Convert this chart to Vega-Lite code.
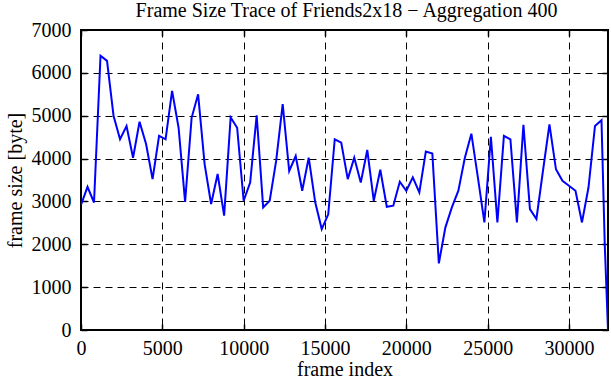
{
  "$schema": "https://vega.github.io/schema/vega-lite/v6.json",
  "width": 527,
  "height": 300,
  "autosize": {"type": "none"},
  "padding": {"left": 81, "top": 30, "right": 3, "bottom": 50},
  "background": "white",
  "config": {
    "font": "Liberation Serif",
    "view": {"stroke": "black", "strokeWidth": 2},
    "axis": {
      "labelFont": "Liberation Serif",
      "labelFontSize": 20,
      "labelColor": "black",
      "titleFont": "Liberation Serif",
      "titleFontSize": 20,
      "titleFontWeight": "normal",
      "titleColor": "black",
      "domain": false,
      "tickColor": "black",
      "tickWidth": 1.5,
      "gridColor": "black",
      "gridOpacity": 1,
      "gridWidth": 1,
      "gridDash": [7, 5]
    }
  },
  "data": {
    "values": [
      {"frame": 0, "size": 2920},
      {"frame": 400, "size": 3340},
      {"frame": 800, "size": 2975},
      {"frame": 1200, "size": 6400},
      {"frame": 1600, "size": 6280},
      {"frame": 2000, "size": 5000},
      {"frame": 2400, "size": 4450},
      {"frame": 2800, "size": 4760},
      {"frame": 3200, "size": 4020},
      {"frame": 3600, "size": 4860},
      {"frame": 4000, "size": 4340},
      {"frame": 4400, "size": 3520},
      {"frame": 4800, "size": 4530},
      {"frame": 5200, "size": 4450},
      {"frame": 5600, "size": 5580},
      {"frame": 6000, "size": 4720},
      {"frame": 6400, "size": 2990},
      {"frame": 6800, "size": 4950},
      {"frame": 7200, "size": 5500},
      {"frame": 7600, "size": 3870},
      {"frame": 8000, "size": 2940},
      {"frame": 8400, "size": 3640},
      {"frame": 8800, "size": 2670},
      {"frame": 9200, "size": 4960},
      {"frame": 9600, "size": 4720},
      {"frame": 10000, "size": 3015},
      {"frame": 10400, "size": 3440},
      {"frame": 10800, "size": 5010},
      {"frame": 11200, "size": 2860},
      {"frame": 11600, "size": 3015},
      {"frame": 12000, "size": 3950},
      {"frame": 12400, "size": 5270},
      {"frame": 12800, "size": 3710},
      {"frame": 13200, "size": 4060},
      {"frame": 13600, "size": 3250},
      {"frame": 14000, "size": 4020},
      {"frame": 14400, "size": 2980},
      {"frame": 14800, "size": 2355},
      {"frame": 15200, "size": 2700},
      {"frame": 15600, "size": 4450},
      {"frame": 16000, "size": 4370},
      {"frame": 16400, "size": 3520},
      {"frame": 16800, "size": 4020},
      {"frame": 17200, "size": 3440},
      {"frame": 17600, "size": 4200},
      {"frame": 18000, "size": 3015},
      {"frame": 18400, "size": 3740},
      {"frame": 18800, "size": 2875},
      {"frame": 19200, "size": 2900},
      {"frame": 19600, "size": 3460},
      {"frame": 20000, "size": 3250},
      {"frame": 20400, "size": 3560},
      {"frame": 20800, "size": 3210},
      {"frame": 21200, "size": 4165},
      {"frame": 21600, "size": 4120},
      {"frame": 22000, "size": 1555},
      {"frame": 22400, "size": 2390},
      {"frame": 22800, "size": 2860},
      {"frame": 23200, "size": 3250},
      {"frame": 23600, "size": 4020},
      {"frame": 24000, "size": 4580},
      {"frame": 24400, "size": 3560},
      {"frame": 24800, "size": 2510},
      {"frame": 25200, "size": 4510},
      {"frame": 25600, "size": 2510},
      {"frame": 26000, "size": 4530},
      {"frame": 26400, "size": 4450},
      {"frame": 26800, "size": 2510},
      {"frame": 27200, "size": 4790},
      {"frame": 27600, "size": 2820},
      {"frame": 28000, "size": 2590},
      {"frame": 28400, "size": 3710},
      {"frame": 28800, "size": 4800},
      {"frame": 29200, "size": 3750},
      {"frame": 29600, "size": 3480},
      {"frame": 30000, "size": 3365},
      {"frame": 30400, "size": 3250},
      {"frame": 30800, "size": 2510},
      {"frame": 31200, "size": 3325},
      {"frame": 31600, "size": 4760},
      {"frame": 32000, "size": 4895},
      {"frame": 32200, "size": 2000},
      {"frame": 32400, "size": 0}
    ]
  },
  "layer": [
    {
      "mark": {"type": "line", "color": "#0000ff", "strokeWidth": 2, "clip": true},
      "encoding": {
        "x": {
          "field": "frame", "type": "quantitative",
          "scale": {"domain": [0, 32400], "nice": false, "zero": false},
          "axis": {
            "orient": "bottom",
            "values": [0, 5000, 10000, 15000, 20000, 25000, 30000],
            "format": "d",
            "grid": true,
            "ticks": true,
            "tickSize": -6,
            "labelFont": "Liberation Serif",
            "labelPadding": 14,
            "labelFlush": false,
            "labelOverlap": false,
            "title": "frame index",
            "titleFont": "Liberation Serif",
            "titleY": 45,
            "titleBaseline": "alphabetic"
          }
        },
        "y": {
          "field": "size", "type": "quantitative",
          "scale": {"domain": [0, 7000], "nice": false},
          "axis": {
            "orient": "left",
            "values": [0, 1000, 2000, 3000, 4000, 5000, 6000, 7000],
            "format": "d",
            "grid": true,
            "ticks": true,
            "tickSize": -6,
            "labelFont": "Liberation Serif",
            "labelPadding": 16,
            "labelFlush": false,
            "labelOverlap": false,
            "title": "frame size [byte]",
            "titleFont": "Liberation Serif",
            "titleAngle": -90,
            "titleX": -60,
            "titleY": 150,
            "titleAlign": "center",
            "titleBaseline": "alphabetic"
          }
        }
      }
    },
    {
      "mark": {"type": "line", "opacity": 0},
      "encoding": {
        "x": {
          "field": "frame", "type": "quantitative",
          "axis": {
            "orient": "top",
            "values": [0, 5000, 10000, 15000, 20000, 25000, 30000],
            "grid": false,
            "labels": false,
            "ticks": true,
            "tickSize": -6,
            "title": "Frame Size Trace of Friends2x18 − Aggregation 400",
            "titleFont": "Liberation Serif",
            "titleFontSize": 20,
            "titleX": 265,
            "titleY": -14,
            "titleAlign": "center",
            "titleBaseline": "alphabetic"
          }
        },
        "y": {
          "field": "size", "type": "quantitative",
          "axis": {
            "orient": "right",
            "values": [0, 1000, 2000, 3000, 4000, 5000, 6000, 7000],
            "grid": false,
            "labels": false,
            "ticks": true,
            "tickSize": -6,
            "title": null
          }
        }
      }
    }
  ],
  "resolve": {"axis": {"x": "independent", "y": "independent"}}
}
